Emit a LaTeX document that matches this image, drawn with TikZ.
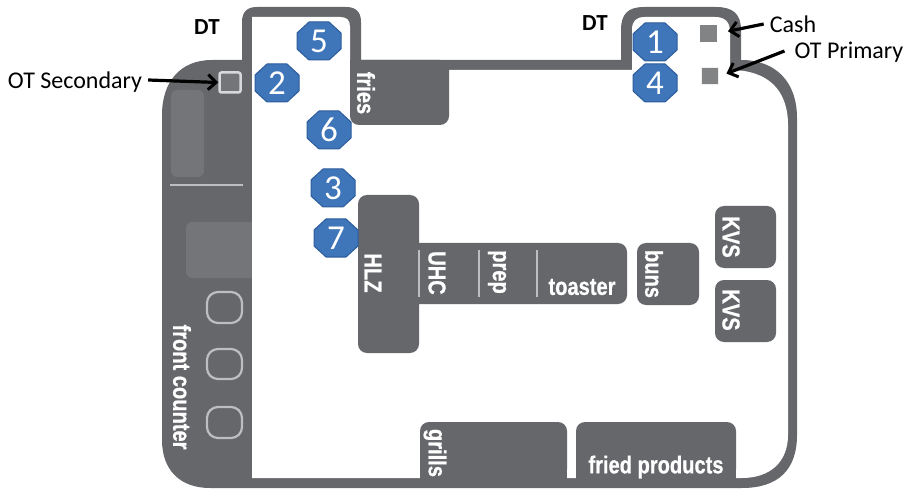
\documentclass[tikz,border=0pt]{standalone}
\usepackage{fontspec}
\setmainfont{Carlito}
\newfontfamily\labfont{Liberation Sans}[FakeStretch=0.82,FakeBold=0.7,BoldFeatures={FakeStretch=0.82,FakeBold=0.7}]
\usetikzlibrary{arrows.meta}
\definecolor{wall}{HTML}{66676B}
\definecolor{blockc}{HTML}{66676B}
\definecolor{softc}{HTML}{747578}
\definecolor{linec}{HTML}{BDBEC0}
\definecolor{badge}{HTML}{3F75B9}
\definecolor{badgeb}{HTML}{2C5C9C}
\newcommand\badgeat[4]{%
  \filldraw[fill=badge,draw=badgeb,line width=1pt,shift={(#1,#2)}]
    (-10,-19)--(10,-19)--(22,-8)--(22,8)--(10,19)--(-10,19)--(-22,8)--(-22,-8)--cycle;
  \node[num] (#4) at (#1,#2) {#3};}
\tikzset{
  x=1pt,y=-1pt,
  blockfill/.style={fill=blockc,draw=none,rounded corners=9pt},
  softbox/.style={fill=softc,draw=none,rounded corners=6pt},
  seat/.style={draw=linec,line width=2.2pt,rounded corners=11pt},
  sepline/.style={draw=linec,line width=2.6pt},
  lab/.style={text=white,inner sep=0pt,font=\labfont\bfseries\fontsize{24.5}{24.5}\selectfont},
  vlab/.style={lab,rotate=-90},
  num/.style={inner sep=0pt,text=white,font=\fontsize{35}{35}\selectfont},
  noteb/.style={text=black,inner sep=0pt,font=\fontsize{24}{24}\selectfont},
  dtb/.style={text=black,inner sep=0pt,font=\bfseries\fontsize{23}{23}\selectfont},
  pointer/.style={draw=black,line width=3.2pt,-{Straight Barb[length=8pt,width=15pt,line width=3pt]}},
  termb/.style={draw=none,inner sep=0pt,minimum width=17pt,minimum height=17pt,fill=softc!90!white},
}
\begin{document}
\begin{tikzpicture}
\useasboundingbox (0,0) rectangle (905,489);
% outer wall
\fill[wall] (162,115) .. controls (162,82) and (180,60) .. (212,60)
  -- (242,60) -- (242,22) .. controls (242,12) and (247,7) .. (257,7)
  -- (346,7) .. controls (356,7) and (361,12) .. (361,22)
  -- (361,60) -- (621,60) -- (621,30) .. controls (621,14) and (628,7) .. (644,7)
  -- (716,7) .. controls (733,7) and (741,14) .. (741,30)
  -- (741,60) .. controls (776,60) and (797,82) .. (797,118)
  -- (797,435) .. controls (797,470) and (778,488) .. (742,488)
  -- (210,488) .. controls (180,488) and (162,470) .. (162,440) -- cycle;
% white floor
\fill[white] (252,17) -- (340,17) .. controls (347,17) and (350,20) .. (350,27)
  -- (350,70) -- (632,70) -- (632,30) .. controls (632,21) and (636,17) .. (645,17)
  -- (715,17) .. controls (725,17) and (730,22) .. (730,32)
  -- (730,70) .. controls (768,70) and (788,90) .. (788,125)
  -- (788,435) .. controls (788,462) and (770,478) .. (742,478)
  -- (252,478) -- cycle;
% fries
\fill[blockfill] (350,60) rectangle (449,125);
\fill[wall] (350,60) rectangle (449,80);
% T block
\fill[blockfill] (358,195) rectangle (419,353);
\fill[blockfill] (400,243) rectangle (627,304);
\fill[blockfill] (637,243) rectangle (699,305);
\fill[blockfill] (715,206) rectangle (776,268);
\fill[blockfill] (715,280) rectangle (776,342);
\fill[blockfill] (420,422) rectangle (567,478);
\fill[blockc] (420,450) rectangle (567,480);
\fill[blockfill] (576,422) rectangle (736,478);
\fill[blockc] (576,450) rectangle (736,480);
% counter details
\fill[softbox] (171,90) rectangle (204,177);
\fill[softbox] (186,222) rectangle (258,278);
\fill[white] (252,215) rectangle (262,285);
\draw[sepline] (170,185) -- (243,185);
\draw[seat] (207,292) rectangle (242,323);
\draw[seat] (207,349) rectangle (242,379);
\draw[seat] (207,407) rectangle (242,438);
\draw[sepline] (419,250) -- (419,297);
\draw[sepline] (479,250) -- (479,297);
\draw[sepline] (537,250) -- (537,297);
% labels on blocks
\node[vlab] (tfries) at (366,93) {fries};
\node[vlab] (thlz) at (373,273) {HLZ};
\node[vlab] (tuhc) at (437,273) {UHC};
\node[vlab] (tprep) at (497,272) {prep};
\node[lab] (ttoaster) at (582,287) {toaster};
\node[vlab] (tbuns) at (654,274) {buns};
\node[vlab] (tkvsa) at (731,237) {KVS};
\node[vlab] (tkvsb) at (731,310) {KVS};
\node[vlab] (tgrills) at (435,453) {grills};
\node[lab] (tfried) at (656,467) {fried products};
\node[vlab] (tfront) at (182,387) {front counter};
% numbered positions
\badgeat{655}{42}{1}{n1}
\badgeat{655}{83}{4}{n4}
\badgeat{319}{41}{5}{n5}
\badgeat{277}{83}{2}{n2}
\badgeat{329}{130}{6}{n6}
\badgeat{333}{188}{3}{n3}
\badgeat{336}{238}{7}{n7}
% terminals
\node[termb] (cash) at (708.5,33.5) {};
\node[termb,draw=black!6,line width=1pt] (prim) at (710,76.5) {};
\node[draw=linec!60!white,line width=2.5pt,fill=softc,rounded corners=2pt,inner sep=0pt,minimum width=21pt,minimum height=20pt] (sec) at (230,82.5) {};
% notes
\node[dtb] (dta) at (207,27) {DT};
\node[dtb] (dtc) at (595,23) {DT};
\node[noteb] (lsec) at (75,82) {OT Secondary};
\node[noteb] (lcash) at (793,24) {Cash};
\node[noteb] (lprim) at (849,52) {OT Primary};
\draw[pointer] (lsec.east) ++(6pt,2pt) coordinate (a1) -- (sec.west);
\draw[pointer,shorten >=11pt] (lcash.west) ++(-6pt,0) coordinate (a2) -- (cash.east);
\draw[pointer,shorten >=8pt] (lprim.west) ++(-10pt,1pt) coordinate (a3) -- (prim.east);
\end{tikzpicture}
\end{document}
